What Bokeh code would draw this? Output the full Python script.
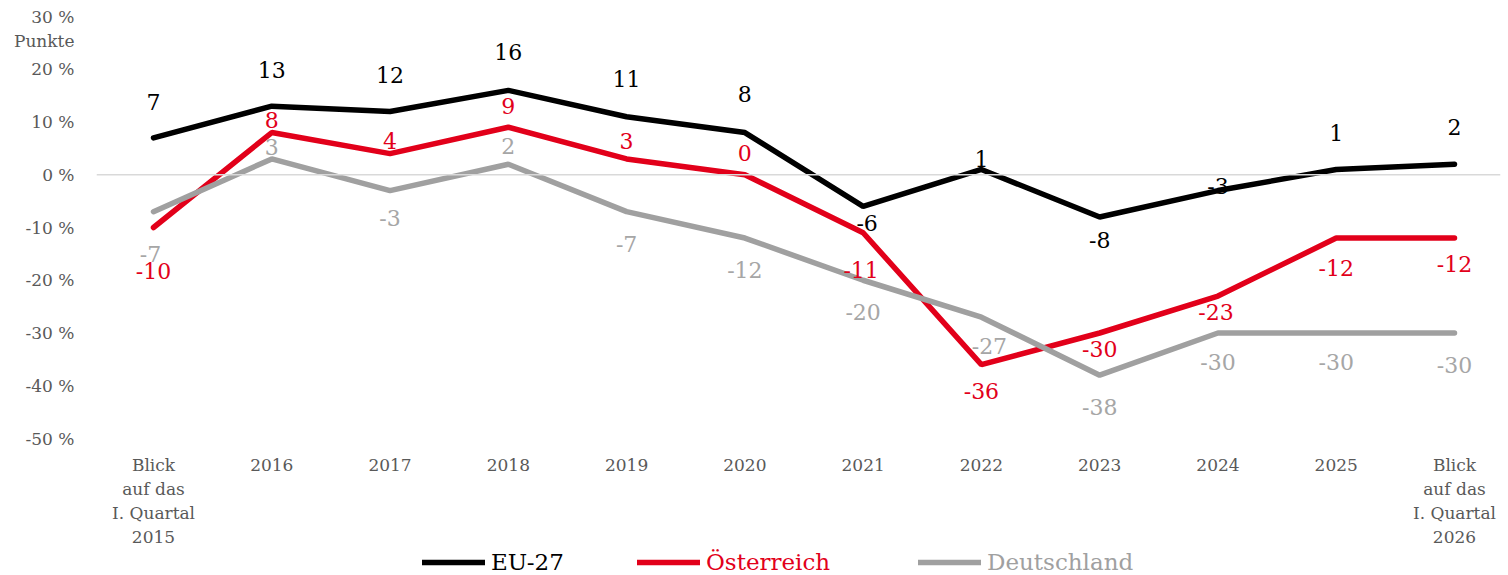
from bokeh.plotting import figure
from bokeh.layouts import column
from bokeh.models import Range1d, FixedTicker, Span, Legend, LegendItem, ColumnDataSource
from bokeh.core.properties import value
from bokeh.embed import file_html
from bokeh.resources import INLINE

# ---- data ----
categories = ["Blick\nauf das\nI. Quartal\n2015", "2016", "2017", "2018", "2019", "2020",
              "2021", "2022", "2023", "2024", "2025", "Blick\nauf das\nI. Quartal\n2026"]
eu27 = [7, 13, 12, 16, 11, 8, -6, 1, -8, -3, 1, 2]
oesterreich = [-10, 8, 4, 9, 3, 0, -11, -36, -30, -23, -12, -12]
deutschland = [-7, 3, -3, 2, -7, -12, -20, -27, -38, -30, -30, -30]
series_names = ["EU-27", "Österreich", "Deutschland"]
y_ticks = [-50, -40, -30, -20, -10, 0, 10, 20, 30]
y_unit_label = "Punkte"

# ---- styling (label offsets in px, positive = up) ----
colors = ["#000000", "#E2001A", "#A0A0A0"]
label_colors = ["#000000", "#E2001A", "#A6A6A6"]
eu_dy = [36, 36, 36, 38, 38, 39, -17, 10, -23, 5, 36, 37]
eu_dx = [0, 0, 0, 0, 0, 0, 4, 0, 0, 0, 0, 0]
at_dy = [-43, 13, 13, 21, 18, 22, -37, -26, -16, -16, -30, -26]
at_dx = [0, 0, 0, 0, 0, 0, -2, 0, 0, -2, 0, 0]
de_dy = [-42, 12, -27, 18, -32, -32, -32, -29, -32, -29, -29, -32]
de_dx = [-3, 0, 0, 0, 0, 0, 0, 8, 0, 0, 0, 0]
FONT = "DejaVu Serif"
W = 1508
MAIN_H = 549
LEG_H = 26

x = list(range(len(categories)))
series = [eu27, oesterreich, deutschland]

p = figure(width=W, height=MAIN_H, output_backend="svg", toolbar_location=None,
           x_range=Range1d(-0.482, 11.389), y_range=Range1d(-50, 30),
           min_border_left=96, min_border_right=8, min_border_top=16,
           min_border_bottom=MAIN_H - 440)
p.outline_line_color = None
p.xgrid.grid_line_color = None
p.ygrid.grid_line_color = None
p.background_fill_color = "white"
p.border_fill_color = "white"

# axes
punkte_pos = 25.3
p.yaxis.ticker = FixedTicker(ticks=y_ticks + [punkte_pos])
ov = {t: f"{t} %" for t in y_ticks}
ov[punkte_pos] = y_unit_label
p.yaxis.major_label_overrides = ov
p.xaxis.ticker = FixedTicker(ticks=x)
p.xaxis.major_label_overrides = {i: c for i, c in enumerate(categories)}
for ax in (p.xaxis, p.yaxis):
    ax.axis_line_color = None
    ax.major_tick_line_color = None
    ax.minor_tick_line_color = None
    ax.major_tick_out = 0
    ax.major_tick_in = 0
    ax.major_label_text_font = FONT
    ax.major_label_text_font_size = "17px"
    ax.major_label_text_color = "#595959"
p.yaxis.major_label_standoff = 22
p.xaxis.major_label_standoff = 16

# zero line
p.add_layout(Span(location=0, dimension="width", line_color="#D9D9D9", line_width=1.5))

for vals, col in zip(series, colors):
    p.line(x, vals, line_color=col, line_width=5.5, line_cap="round")

for vals, dy, dx, col in zip(series, [eu_dy, at_dy, de_dy], [eu_dx, at_dx, de_dx], label_colors):
    src = ColumnDataSource(dict(x=x, y=vals, t=[str(v) for v in vals],
                                yo=[-d for d in dy], xo=dx))
    p.text(x="x", y="y", text="t", source=src, x_offset="xo", y_offset="yo",
           text_align="center", text_baseline="middle",
           text_font=value(FONT), text_font_size="22px", text_color=col)

# ---- legend strip ----
lg = figure(width=W, height=LEG_H, output_backend="svg", toolbar_location=None,
            x_range=Range1d(0, 1), y_range=Range1d(1000, 1001),
            x_axis_location=None, y_axis_location=None,
            min_border=0, min_border_left=0, min_border_right=0,
            min_border_top=0, min_border_bottom=0)
lg.grid.visible = False
lg.outline_line_color = None
lg.background_fill_color = "white"
lg.border_fill_color = "white"

leg_x = [326, 541, 822]  # relative to the (aligned) frame left
for name, col, lx, vals in zip(series_names, colors, leg_x, series):
    # legend proxy: same series, out of the strip's visible range
    r = lg.line(x, vals, line_color=col, line_width=5.5, line_cap="round")
    leg = Legend(items=[LegendItem(label=name, renderers=[r])], location=(lx, 0),
                 orientation="horizontal", border_line_color=None, background_fill_alpha=0,
                 padding=0, margin=0, spacing=0, glyph_width=63, glyph_height=22,
                 label_standoff=6, label_text_font=FONT, label_text_font_size="23px",
                 label_text_color=col, label_height=22)
    lg.add_layout(leg)

layout = column(p, lg, spacing=0)
open("out.html", "w").write(file_html(layout, INLINE))
